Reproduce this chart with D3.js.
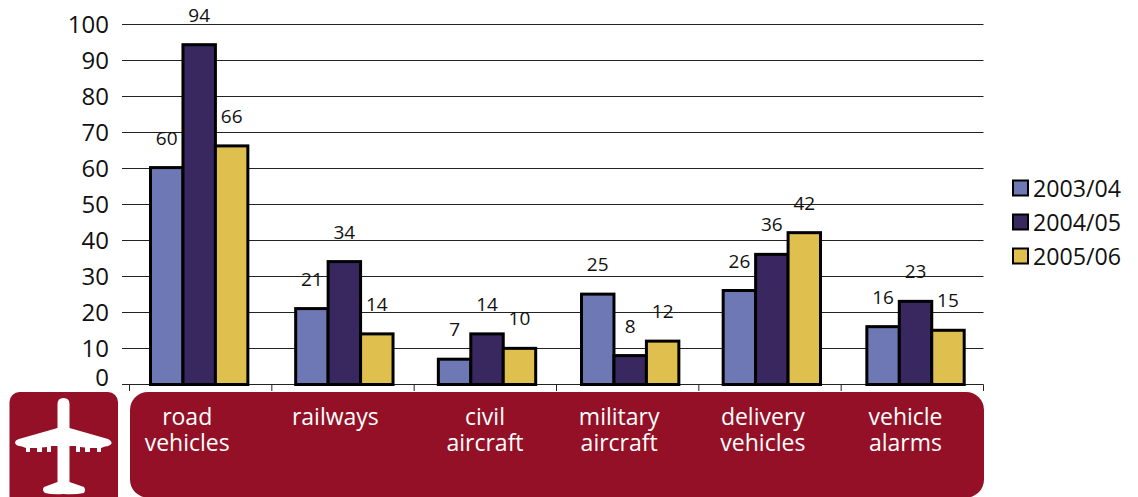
<!DOCTYPE html>
<html><head><meta charset="utf-8">
<script src="https://cdn.jsdelivr.net/npm/d3@7"></script>
<style>html,body{margin:0;padding:0;background:#fff}svg{display:block}text{font-family:"Open Sans",sans-serif;fill:#111}</style>
</head><body><svg id="c" width="1138" height="497"></svg>
<script>
const categories=[["road","vehicles"],["railways"],["civil","aircraft"],["military","aircraft"],["delivery","vehicles"],["vehicle","alarms"]];
const seriesNames=["2003/04","2004/05","2005/06"];
const values2003=[60,21,7,25,26,16];
const values2004=[94,34,14,8,36,23];
const values2005=[66,14,10,12,42,15];
const seriesValues=[values2003,values2004,values2005];
const colors=["#6E78B4","#38285F","#DFC04E"];
const yTicks=[0,10,20,30,40,50,60,70,80,90,100];
const groupNudges=[0,2,1.5,1.5,0,0.5];
const categoryLabelOffsets=[-12,-9,-2,-11,-9,-10];

const svg=d3.select("#c");
const y=d3.scaleLinear().domain([0,100]).range([384.5,24.5]);
const yBars=d3.scaleLinear().domain([0,100]).range([384.5,23]);
const idx=d3.range(categories.length);
const xBars=d3.scaleBand().domain(idx).range([127.6,986.6]).paddingInner(0.32).paddingOuter(0.16);
const xInner=d3.scaleBand().domain([0,1,2]).range([0,xBars.bandwidth()]);
const xTicks=d3.scaleLinear().domain([0,6]).range([129.5,983.5]);
const groupX=i=>xBars(i)+groupNudges[i];

// panels
const maroon="#941026";
svg.append("rect").attr("x",9.5).attr("y",392).attr("width",108.5).attr("height",125).attr("rx",10).attr("fill",maroon);
svg.append("rect").attr("x",130).attr("y",392).attr("width",854).attr("height",105.5).attr("rx",18).attr("fill",maroon);

// plane icon
svg.append("path").attr("fill","#fff").attr("d",
"M57.5,404 Q57.5,398 63.5,398 Q69.5,398 69.5,404 L69.5,428 L108,439 Q112,441 111.5,443.5 Q110,446 105,446.5 L101,448 L101,452 L97,452 L97,448 L90,448 L90,452 L85,452 L85,447.5 L80,447 L80,452 L76,452 L76,446 L69.5,446 L69.5,482 L84,487 Q86,490 84,493 Q74,495 63.5,494 Q53,495 45,493 Q41.5,490 44,487 L57.5,482 L57.5,446 L51,446 L51,452 L47,452 L47,447 L42,447.5 L42,452 L37,452 L37,448 L30,448 L30,452 L26,452 L26,448 L22,446.5 Q16,446 15,443 Q15,440 19,439 L57.5,428 Z");

// grid
const gridG=svg.append("g");
gridG.selectAll("line").data(yTicks.filter(d=>d>0)).join("line")
 .attr("x1",122).attr("x2",983.5).attr("y1",d=>y(d)).attr("y2",d=>y(d))
 .attr("stroke","#222").attr("stroke-width",1.2);
// x axis
gridG.append("line").attr("x1",122).attr("x2",983.5).attr("y1",384.5).attr("y2",384.5).attr("stroke","#222").attr("stroke-width",1.2);
gridG.append("g").selectAll("line").data(d3.range(7)).join("line")
 .attr("x1",d=>xTicks(d)).attr("x2",d=>xTicks(d)).attr("y1",384.5).attr("y2",391).attr("stroke","#222").attr("stroke-width",1);

// y tick labels
svg.append("g").selectAll("text").data(yTicks).join("text")
 .attr("x",109).attr("y",d=>d===0?386:y(d)+8.5).attr("text-anchor","end").attr("font-size",24).text(d=>d);

// bars
seriesValues.forEach((vals,s)=>{
 const g=svg.append("g");
 g.selectAll("rect").data(vals).join("rect")
  .attr("x",(d,i)=>groupX(i)+xInner(s)).attr("width",xInner.bandwidth())
  .attr("y",d=>yBars(d)).attr("height",d=>yBars(0)-yBars(d))
  .attr("fill",colors[s]).attr("stroke","#000").attr("stroke-width",3);
 g.selectAll("text").data(vals).join("text")
  .attr("x",(d,i)=>groupX(i)+xInner(s)+xInner.bandwidth()/2).attr("y",d=>yBars(d)-23)
  .attr("text-anchor","middle").attr("font-size",19).text(d=>d);
});

// category labels
categories.forEach((lines,i)=>{
 const cx=xBars(i)+xBars.bandwidth()/2+categoryLabelOffsets[i]+groupNudges[i];
 const t=svg.append("text").attr("text-anchor","middle").attr("font-size",23).style("fill","#fff");
 lines.forEach((s,j)=>t.append("tspan").attr("x",cx).attr("y",425+j*25.5).style("fill","#fff").text(s));
});

// legend
seriesNames.forEach((n,i)=>{
 svg.append("rect").attr("x",1013).attr("y",180.5+i*34).attr("width",15).attr("height",15)
  .attr("fill",colors[i]).attr("stroke","#000").attr("stroke-width",2);
 svg.append("text").attr("x",1033).attr("y",196.5+i*34).attr("font-size",23.2).text(n);
});
</script></body></html>
